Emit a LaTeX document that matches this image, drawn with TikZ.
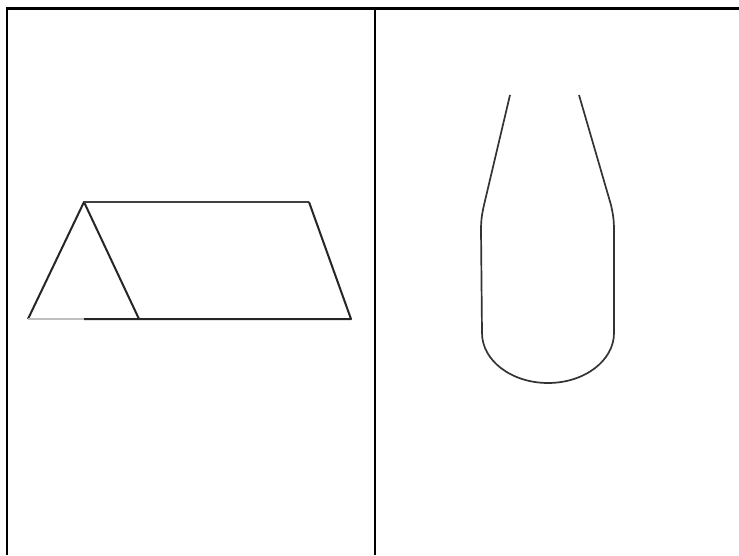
\documentclass[tikz,border=0pt]{standalone}
\begin{document}
\begin{tikzpicture}[x=1pt,y=-1pt,
  frameline/.style={line width=2.4pt,black},
  shapeline/.style={line width=2pt,black!85,line join=round},
  thinline/.style={line width=1.5pt,black!75}]
\useasboundingbox[fill=white] (0,0) rectangle (739,555);
% frame
\draw[frameline] (7,555) -- (7,8.5) -- (739,8.5);
\draw[frameline] (375,8.5) -- (375,555);
% left figure
\coordinate (apex) at (84,202);
\coordinate (bl) at (28,319);
\coordinate (bm) at (139,319);
\coordinate (tr) at (309,202);
\coordinate (br) at (351,319);
\coordinate (b0) at (84,319);
\draw[shapeline] (bl) -- (apex) -- (bm);
\draw[thinline] (apex) -- (tr);
\draw[shapeline] (tr) -- (br) -- (b0);
\draw[line width=1.6pt,black!25] (bl) -- (b0);
% right figure
\draw[line width=1.7pt,black!80] (510,95) -- (484,205) .. controls (482,214) and (481,220) .. (481,230) -- (482,333)
  arc[start angle=180,end angle=360,x radius=66,y radius=-50]
  -- (614,230) .. controls (614,220) and (613,214) .. (611,205) -- (579,95);
\end{tikzpicture}
\end{document}
